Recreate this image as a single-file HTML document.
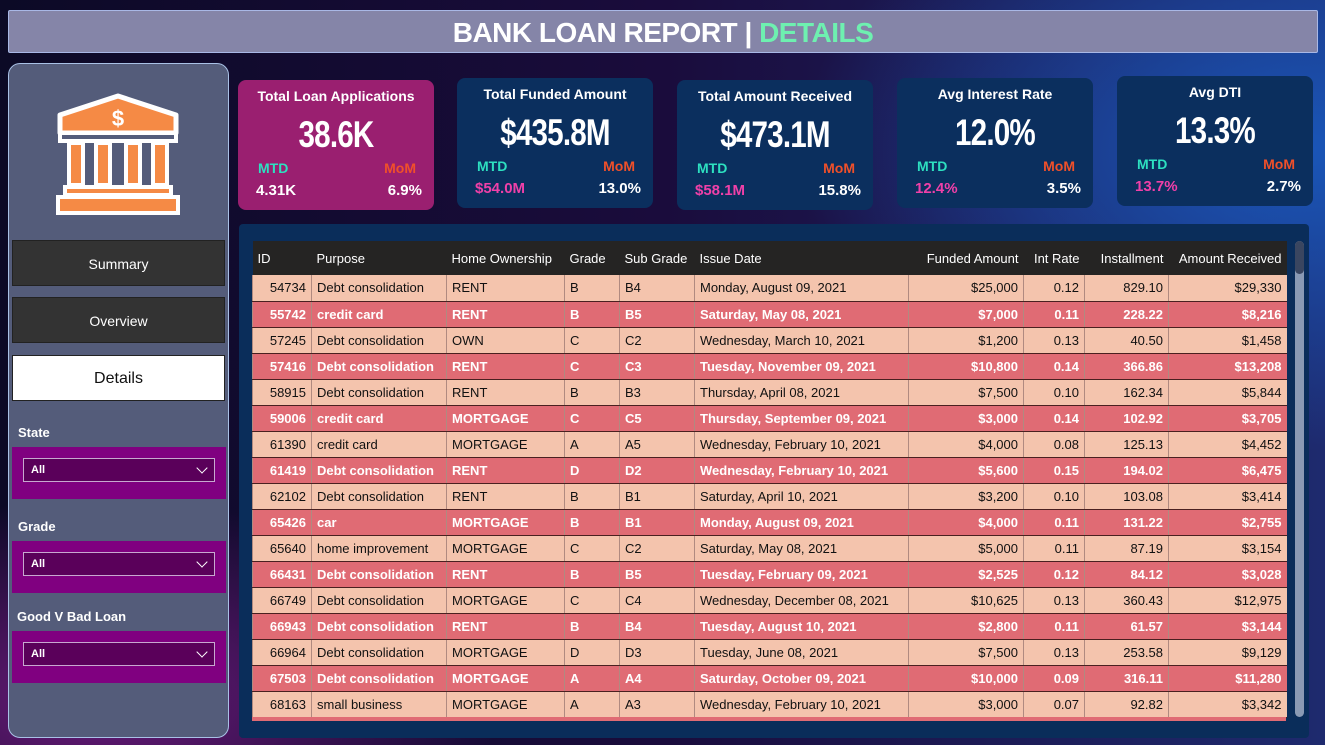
<!DOCTYPE html>
<html><head><meta charset="utf-8"><style>
*{margin:0;padding:0;box-sizing:border-box}
body{width:1325px;height:745px;overflow:hidden;position:relative;font-family:"Liberation Sans",sans-serif;
background:radial-gradient(ellipse 500px 300px at 1300px 150px,#1a56b8 0%,rgba(26,86,184,0) 100%),radial-gradient(ellipse 400px 200px at 100px 700px,#6a1a7a 0%,rgba(106,26,122,0) 100%),linear-gradient(90deg,#0c0a26 0%,#1a0c3c 50%,#1e2a6e 100%);}
.abs{position:absolute}
.title{left:8px;top:10px;width:1310px;height:43px;background:#8585a8;border:1px solid #a9b8e6;border-radius:2px;color:#fff;font-weight:bold;font-size:28px;text-align:center;line-height:43px;letter-spacing:-0.5px}
.title span{color:#6ef0b0}
.panel{left:8px;top:63px;width:221px;height:675px;background:#545c7a;border:1px solid #a9c1e6;border-radius:12px}
.btn{left:12px;width:213px;height:46px;background:#333;border:1px solid #222;color:#fff;font-size:14px;text-align:center;line-height:46px}
.lbl{left:18px;color:#fff;font-weight:bold;font-size:13px}
.dd{left:12px;width:214px;height:52px;background:#800080}
.sel{position:absolute;left:11px;top:11px;width:192px;height:24px;background:#5a005a;border:1px solid #c8a8d0;color:#fff;font-size:11px;font-weight:bold;line-height:22px;padding-left:7px}
.sel:after{content:"";position:absolute;right:8px;top:5px;width:7px;height:7px;border-right:1.5px solid #fff;border-bottom:1.5px solid #fff;transform:rotate(45deg)}
.card{width:196px;height:130px;border-radius:8px;color:#fff}
.card .h{position:absolute;top:8px;width:100%;text-align:center;font-weight:bold;font-size:14px}
.card .v{position:absolute;top:34px;width:100%;text-align:center;font-weight:bold;font-size:37px;letter-spacing:-1px;transform:scaleX(0.8)}
.card .m1{position:absolute;left:20px;top:80px;color:#2de0c0;font-weight:bold;font-size:14px}
.card .m2{position:absolute;right:18px;top:80px;color:#f0502a;font-weight:bold;font-size:14px}
.card .a{position:absolute;left:18px;top:102px;font-size:15px;font-weight:bold}
.card .b{position:absolute;right:12px;top:102px;font-size:15px;font-weight:bold}
.tbox{left:239px;top:224px;width:1070px;height:514px;background:#0a2d5a;border-radius:4px}
table{position:absolute;left:252px;top:241px;border-collapse:collapse;font-size:13px;table-layout:fixed}
th{background:#252423;color:#fff;font-weight:normal;text-align:left;height:34px;padding:0 5px;white-space:nowrap}
td{height:26px;padding:0 5px;white-space:nowrap;overflow:hidden;border-left:1px solid #b08a80;border-bottom:1px solid #4a2020}
tr.l td{background:#f4c4ad;color:#111}
tr.d td{background:#e06b74;color:#fff;font-weight:bold}
td.r{text-align:right}
.scroll{left:1295px;top:241px;width:9px;height:476px;background:#8a9ab4;border-radius:5px}
.scroll:before{content:"";position:absolute;left:0;top:0;width:9px;height:33px;background:#3a4660;border-radius:5px}
</style></head><body>
<div class="abs title">BANK LOAN REPORT | <span>DETAILS</span></div>
<div class="abs panel"></div>
<svg class="abs" style="left:55px;top:93px" width="126" height="124" viewBox="0 0 126 124">
<path d="M63 3 L121 22 V40 H5 V22 Z" fill="#f58a45" stroke="#fff" stroke-width="5" stroke-linejoin="round"/>
<text x="63" y="33" fill="#fff" font-size="22" font-weight="bold" text-anchor="middle" font-family="Liberation Sans">$</text>
<rect x="5" y="40" width="116" height="8" fill="#545c7a" stroke="#fff" stroke-width="4"/>
<g fill="#f58a45" stroke="#fff" stroke-width="4"><rect x="14" y="50" width="14" height="42"/><rect x="41" y="50" width="14" height="42"/><rect x="71" y="50" width="14" height="42"/><rect x="98" y="50" width="14" height="42"/></g>
<rect x="10" y="94" width="106" height="8" fill="#f58a45" stroke="#fff" stroke-width="4"/>
<rect x="3" y="104" width="120" height="16" fill="#f58a45" stroke="#fff" stroke-width="4"/>
</svg>
<div class="abs btn" style="top:240px">Summary</div>
<div class="abs btn" style="top:297px">Overview</div>
<div class="abs btn" style="top:355px;background:#fff;color:#111;font-size:16px">Details</div>
<div class="abs lbl" style="top:425px">State</div>
<div class="abs dd" style="top:447px"><div class="sel">All</div></div>
<div class="abs lbl" style="top:519px">Grade</div>
<div class="abs dd" style="top:541px"><div class="sel">All</div></div>
<div class="abs lbl" style="top:609px;left:17px">Good V Bad Loan</div>
<div class="abs dd" style="top:631px"><div class="sel">All</div></div>

<div class="abs card" style="left:238px;top:80px;background:#9a1f70"><div class="h">Total Loan Applications</div><div class="v">38.6K</div><div class="m1">MTD</div><div class="m2">MoM</div><div class="a">4.31K</div><div class="b">6.9%</div></div>
<div class="abs card" style="left:457px;top:78px;background:#0b2f5e"><div class="h">Total Funded Amount</div><div class="v">$435.8M</div><div class="m1">MTD</div><div class="m2">MoM</div><div class="a" style="color:#f040a8">$54.0M</div><div class="b">13.0%</div></div>
<div class="abs card" style="left:677px;top:80px;background:#0b2f5e"><div class="h">Total Amount Received</div><div class="v">$473.1M</div><div class="m1">MTD</div><div class="m2">MoM</div><div class="a" style="color:#f040a8">$58.1M</div><div class="b">15.8%</div></div>
<div class="abs card" style="left:897px;top:78px;background:#0b2f5e"><div class="h">Avg Interest Rate</div><div class="v">12.0%</div><div class="m1">MTD</div><div class="m2">MoM</div><div class="a" style="color:#f040a8">12.4%</div><div class="b">3.5%</div></div>
<div class="abs card" style="left:1117px;top:76px;background:#0b2f5e"><div class="h">Avg DTI</div><div class="v">13.3%</div><div class="m1">MTD</div><div class="m2">MoM</div><div class="a" style="color:#f040a8">13.7%</div><div class="b">2.7%</div></div>

<div class="abs tbox"></div>
<table>
<colgroup><col style="width:59px"><col style="width:135px"><col style="width:118px"><col style="width:55px"><col style="width:75px"><col style="width:214px"><col style="width:115px"><col style="width:61px"><col style="width:84px"><col style="width:118px"></colgroup>
<tr><th>ID</th><th>Purpose</th><th>Home Ownership</th><th>Grade</th><th>Sub Grade</th><th>Issue Date</th><th style="text-align:right">Funded Amount</th><th style="text-align:right">Int Rate</th><th style="text-align:right">Installment</th><th style="text-align:right">Amount Received</th></tr>
<tr class="l"><td class="r">54734</td><td>Debt consolidation</td><td>RENT</td><td>B</td><td>B4</td><td>Monday, August 09, 2021</td><td class="r">$25,000</td><td class="r">0.12</td><td class="r">829.10</td><td class="r">$29,330</td></tr>
<tr class="d"><td class="r">55742</td><td>credit card</td><td>RENT</td><td>B</td><td>B5</td><td>Saturday, May 08, 2021</td><td class="r">$7,000</td><td class="r">0.11</td><td class="r">228.22</td><td class="r">$8,216</td></tr>
<tr class="l"><td class="r">57245</td><td>Debt consolidation</td><td>OWN</td><td>C</td><td>C2</td><td>Wednesday, March 10, 2021</td><td class="r">$1,200</td><td class="r">0.13</td><td class="r">40.50</td><td class="r">$1,458</td></tr>
<tr class="d"><td class="r">57416</td><td>Debt consolidation</td><td>RENT</td><td>C</td><td>C3</td><td>Tuesday, November 09, 2021</td><td class="r">$10,800</td><td class="r">0.14</td><td class="r">366.86</td><td class="r">$13,208</td></tr>
<tr class="l"><td class="r">58915</td><td>Debt consolidation</td><td>RENT</td><td>B</td><td>B3</td><td>Thursday, April 08, 2021</td><td class="r">$7,500</td><td class="r">0.10</td><td class="r">162.34</td><td class="r">$5,844</td></tr>
<tr class="d"><td class="r">59006</td><td>credit card</td><td>MORTGAGE</td><td>C</td><td>C5</td><td>Thursday, September 09, 2021</td><td class="r">$3,000</td><td class="r">0.14</td><td class="r">102.92</td><td class="r">$3,705</td></tr>
<tr class="l"><td class="r">61390</td><td>credit card</td><td>MORTGAGE</td><td>A</td><td>A5</td><td>Wednesday, February 10, 2021</td><td class="r">$4,000</td><td class="r">0.08</td><td class="r">125.13</td><td class="r">$4,452</td></tr>
<tr class="d"><td class="r">61419</td><td>Debt consolidation</td><td>RENT</td><td>D</td><td>D2</td><td>Wednesday, February 10, 2021</td><td class="r">$5,600</td><td class="r">0.15</td><td class="r">194.02</td><td class="r">$6,475</td></tr>
<tr class="l"><td class="r">62102</td><td>Debt consolidation</td><td>RENT</td><td>B</td><td>B1</td><td>Saturday, April 10, 2021</td><td class="r">$3,200</td><td class="r">0.10</td><td class="r">103.08</td><td class="r">$3,414</td></tr>
<tr class="d"><td class="r">65426</td><td>car</td><td>MORTGAGE</td><td>B</td><td>B1</td><td>Monday, August 09, 2021</td><td class="r">$4,000</td><td class="r">0.11</td><td class="r">131.22</td><td class="r">$2,755</td></tr>
<tr class="l"><td class="r">65640</td><td>home improvement</td><td>MORTGAGE</td><td>C</td><td>C2</td><td>Saturday, May 08, 2021</td><td class="r">$5,000</td><td class="r">0.11</td><td class="r">87.19</td><td class="r">$3,154</td></tr>
<tr class="d"><td class="r">66431</td><td>Debt consolidation</td><td>RENT</td><td>B</td><td>B5</td><td>Tuesday, February 09, 2021</td><td class="r">$2,525</td><td class="r">0.12</td><td class="r">84.12</td><td class="r">$3,028</td></tr>
<tr class="l"><td class="r">66749</td><td>Debt consolidation</td><td>MORTGAGE</td><td>C</td><td>C4</td><td>Wednesday, December 08, 2021</td><td class="r">$10,625</td><td class="r">0.13</td><td class="r">360.43</td><td class="r">$12,975</td></tr>
<tr class="d"><td class="r">66943</td><td>Debt consolidation</td><td>RENT</td><td>B</td><td>B4</td><td>Tuesday, August 10, 2021</td><td class="r">$2,800</td><td class="r">0.11</td><td class="r">61.57</td><td class="r">$3,144</td></tr>
<tr class="l"><td class="r">66964</td><td>Debt consolidation</td><td>MORTGAGE</td><td>D</td><td>D3</td><td>Tuesday, June 08, 2021</td><td class="r">$7,500</td><td class="r">0.13</td><td class="r">253.58</td><td class="r">$9,129</td></tr>
<tr class="d"><td class="r">67503</td><td>Debt consolidation</td><td>MORTGAGE</td><td>A</td><td>A4</td><td>Saturday, October 09, 2021</td><td class="r">$10,000</td><td class="r">0.09</td><td class="r">316.11</td><td class="r">$11,280</td></tr>
<tr class="l"><td class="r">68163</td><td>small business</td><td>MORTGAGE</td><td>A</td><td>A3</td><td>Wednesday, February 10, 2021</td><td class="r">$3,000</td><td class="r">0.07</td><td class="r">92.82</td><td class="r">$3,342</td></tr>
</table>
<div class="abs" style="left:252px;top:717px;width:1034px;height:4px;background:#e06b74"></div>
<div class="abs scroll"></div>
</body></html>
